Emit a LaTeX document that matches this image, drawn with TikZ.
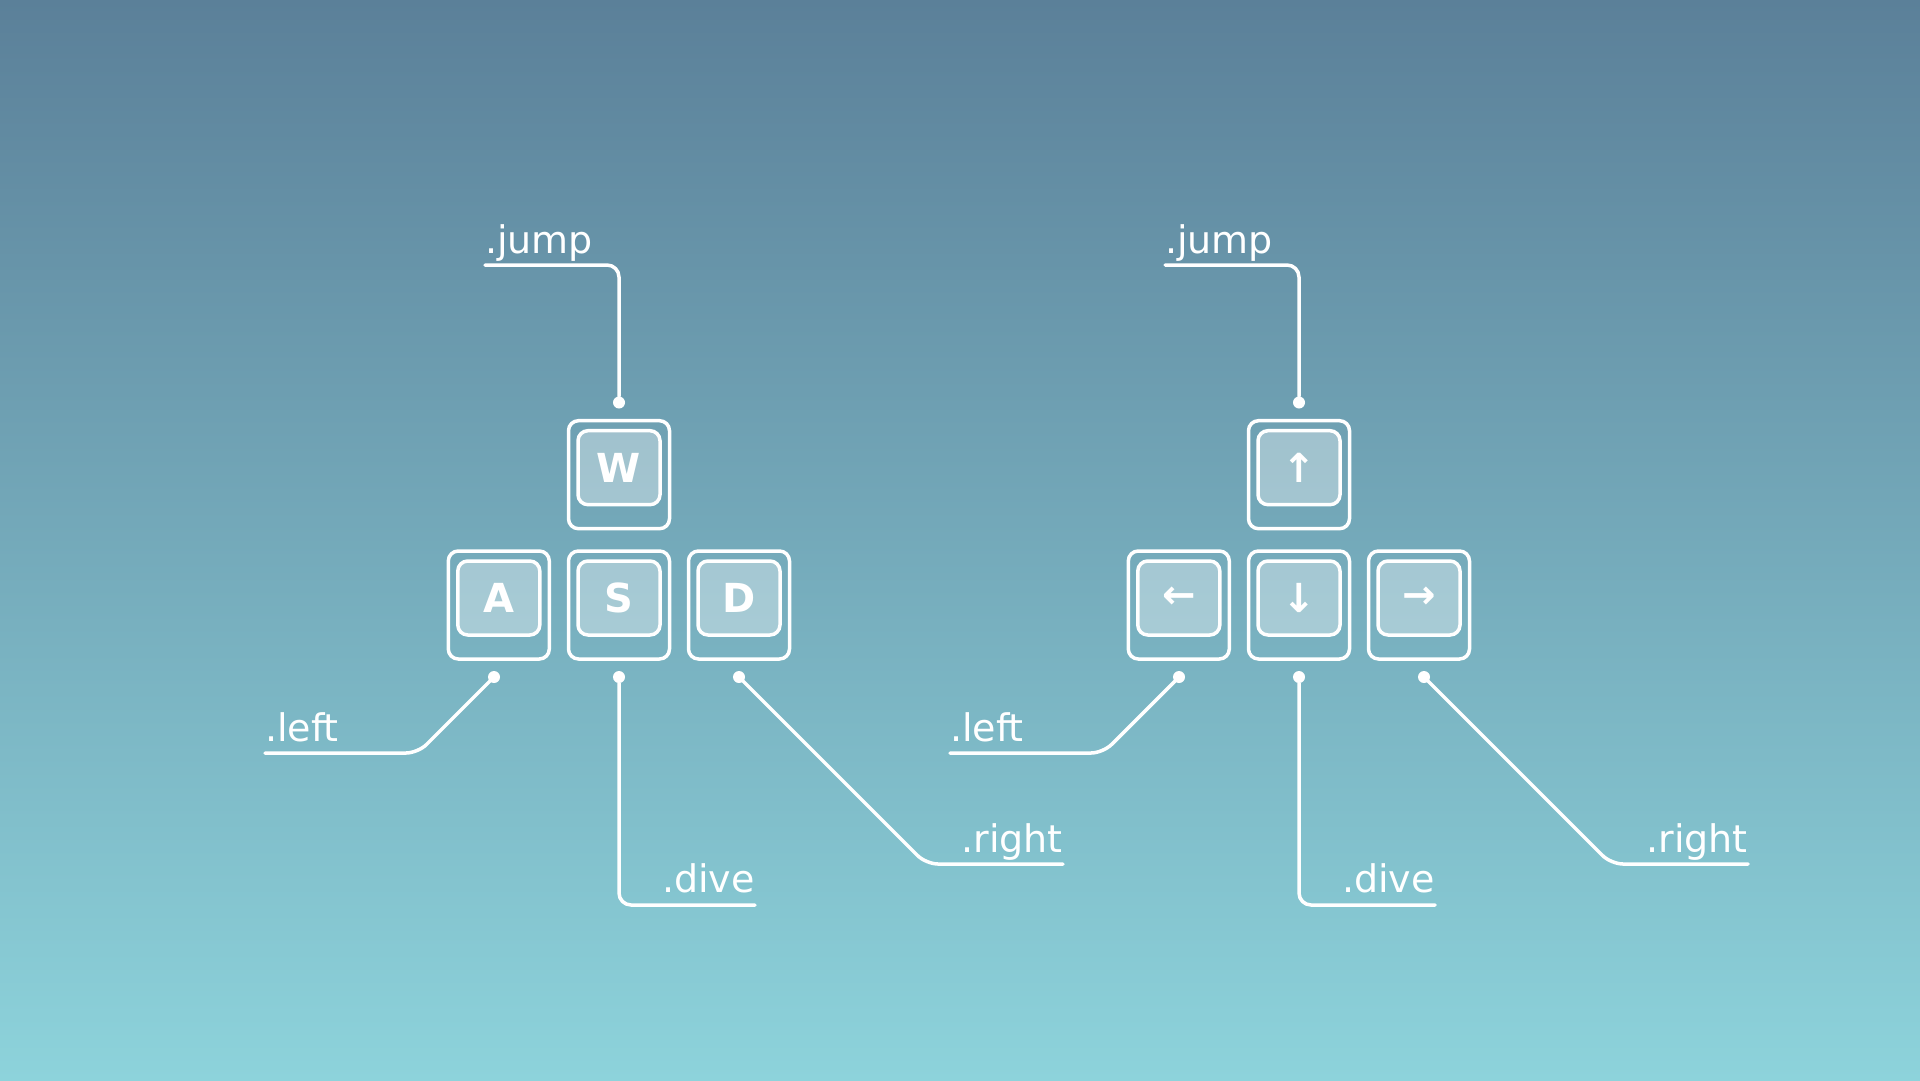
\documentclass[tikz,border=0pt]{standalone}
\usepackage{fontspec}
\setmainfont{DejaVu Sans}
\usepackage{xcolor}
\usepackage{tikz}
\usetikzlibrary{positioning, calc}

\definecolor{bgtop}{RGB}{91,128,153}
\definecolor{bgbottom}{RGB}{141,211,219}

\begin{document}
\begin{tikzpicture}[
    x=1pt, y=-1pt,
    keybox/.style={rectangle, draw=white, line width=3.5pt, rounded corners=10pt, minimum width=101pt, minimum height=108pt, inner sep=0pt},
    keycap/.style={rectangle, draw=white, line width=3.5pt, fill=white, fill opacity=0.35, text opacity=1, rounded corners=10pt, minimum width=82pt, minimum height=74pt, inner sep=0pt, text=white, font=\fontsize{40}{40}\selectfont\bfseries},
    pin/.style={circle, fill=white, minimum size=12pt, inner sep=0pt},
    tagtext/.style={text=white, inner sep=0pt, font=\fontsize{38}{40}\selectfont},
    leader/.style={draw=white, line width=3.5pt, line cap=round, rounded corners=12pt}
]
    % Background
    \shade[top color=bgtop, bottom color=bgbottom] (0,0) rectangle (1920,1080);

    % WASD keys
    \node (keyW) [keybox] at (619,474.7) {};
    \node (keyA) [keybox] at (498.8,605) {};
    \node (keyS) [keybox] at (619,605) {};
    \node (keyD) [keybox] at (739,605) {};
    \node (capW) [keycap, below=10pt of keyW.north] {W};
    \node (capA) [keycap, below=10pt of keyA.north] {A};
    \node (capS) [keycap, below=10pt of keyS.north] {S};
    \node (capD) [keycap, below=10pt of keyD.north] {D};

    % Arrow keys
    \node (keyUp) [keybox] at (1299,474.7) {};
    \node (keyLeft) [keybox] at (1178.8,605) {};
    \node (keyDown) [keybox] at (1299,605) {};
    \node (keyRight) [keybox] at (1419,605) {};
    \node (capUp) [keycap, below=10pt of keyUp.north] {↑};
    \node (capLeft) [keycap, below=10pt of keyLeft.north] {←};
    \node (capDown) [keycap, below=10pt of keyDown.north] {↓};
    \node (capRight) [keycap, below=10pt of keyRight.north] {→};

    % Pins
    \node (pinW) [pin] at (619,402.5) {};
    \node (pinA) [pin] at (494,677) {};
    \node (pinS) [pin] at (619,677) {};
    \node (pinD) [pin] at (739,677) {};
    \node (pinUp) [pin] at (1299,402.5) {};
    \node (pinLeft) [pin] at (1179,677) {};
    \node (pinDown) [pin] at (1299,677) {};
    \node (pinRight) [pin] at (1424,677) {};

    % Leader ends
    \coordinate (endW) at (485,265);
    \coordinate (endA) at (265,753);
    \coordinate (endS) at (755,905);
    \coordinate (endD) at (1063,864);
    \coordinate (endUp) at (1165,265);
    \coordinate (endLeft) at (950,753);
    \coordinate (endDown) at (1435,905);
    \coordinate (endRight) at (1748,864);

    % Leaders
    \draw [leader] (pinW) |- (endW);
    \draw [leader] (pinA) -- ++(-76,76) -- (endA);
    \draw [leader] (pinS) |- (endS);
    \draw [leader] (pinD) -- ++(187,187) -- (endD);
    \draw [leader] (pinUp) |- (endUp);
    \draw [leader] (pinLeft) -- ++(-76,76) -- (endLeft);
    \draw [leader] (pinDown) |- (endDown);
    \draw [leader] (pinRight) -- ++(187,187) -- (endRight);

    % Labels
    \node (tagW) [tagtext, anchor=base west] at ([yshift=12pt]endW) {.jump};
    \node (tagA) [tagtext, anchor=base west] at ([yshift=12pt]endA) {.left};
    \node (tagS) [tagtext, anchor=base east] at ([yshift=13pt]endS) {.dive};
    \node (tagD) [tagtext, anchor=base east] at ([yshift=11.5pt]endD) {.right};
    \node (tagUp) [tagtext, anchor=base west] at ([yshift=12pt]endUp) {.jump};
    \node (tagLeft) [tagtext, anchor=base west] at ([yshift=12pt]endLeft) {.left};
    \node (tagDown) [tagtext, anchor=base east] at ([yshift=13pt]endDown) {.dive};
    \node (tagRight) [tagtext, anchor=base east] at ([yshift=11.5pt]endRight) {.right};
\end{tikzpicture}
\end{document}
